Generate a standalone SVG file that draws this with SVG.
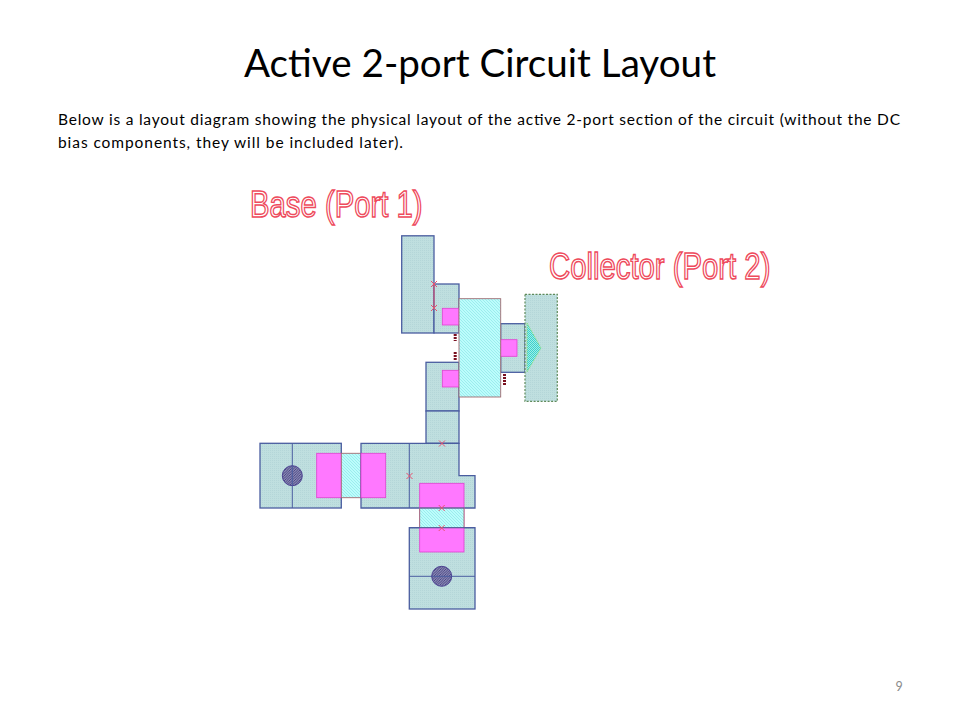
<svg xmlns="http://www.w3.org/2000/svg" width="960" height="720" viewBox="0 0 960 720">
<style>
.t{font-family:Lato,"Open Sans","Liberation Sans",sans-serif}
.m{fill:url(#dots);stroke:#4a5da0;stroke-width:1.3}
.d{fill:none;stroke:#4a5da0;stroke-width:1}
.p{fill:#ff78ff;stroke:#e040d0;stroke-width:.8}
.c{fill:url(#hatch);stroke:#a06a70;stroke-width:.9}
.o{fill:url(#via);stroke:#4a3f90;stroke-width:1}
.x{fill:none;stroke:#e8506e;stroke-width:1}
.l{font-family:"Liberation Sans",Arial,sans-serif;font-size:29.3px;fill:#fff;stroke:#ee4a5c;stroke-width:1.2}
.k{fill:none;stroke:#7a1020;stroke-width:3;stroke-dasharray:2 1}
</style>
<defs>
<pattern id="dots" width="2" height="2" patternUnits="userSpaceOnUse"><rect width="2" height="2" fill="#bfdfdf"/><rect width="1" height="1" fill="#b4d6d8"/></pattern>
<pattern id="hatch" width="3" height="3" patternUnits="userSpaceOnUse"><rect width="3" height="3" fill="#bcfcfc"/><path d="M0 0L3 3" stroke="#84e2e2" stroke-width=".6"/></pattern>
<pattern id="via" width="2.5" height="2.5" patternUnits="userSpaceOnUse"><rect width="2.5" height="2.5" fill="#8a8ab4"/><path d="M0 2.5L2.5 0" stroke="#3c3478" stroke-width=".8"/></pattern>
<pattern id="tri" width="2" height="2" patternUnits="userSpaceOnUse"><rect width="2" height="2" fill="#9eeee6"/><path d="M0 0L2 2" stroke="#25c8c8" stroke-width=".8"/></pattern>
</defs>
<rect width="960" height="720" fill="#fff"/>
<text class="t" x="244" y="77" font-size="38" fill="#000" textLength="472" lengthAdjust="spacingAndGlyphs">Active 2-port Circuit Layout</text>
<text class="t" x="58" y="125" font-size="15.5" fill="#000" textLength="842" lengthAdjust="spacing">Below is a layout diagram showing the physical layout of the active 2-port section of the circuit (without the DC</text>
<text class="t" x="58" y="148" font-size="15.5" fill="#000" textLength="345" lengthAdjust="spacing">bias components, they will be included later).</text>
<text class="l" transform="translate(250 217) scale(1 1.24)">Base (Port 1)</text>
<text class="l" transform="translate(549 279) scale(1 1.24)">Collector (Port 2)</text>

<g id="top-metal">
<rect class="m" x="401.7" y="235.8" width="32.3" height="97.2"/>
<rect class="m" x="434" y="284" width="25" height="49"/>
<rect class="p" x="442.3" y="308.3" width="16.7" height="16.7"/>
<path class="x" d="M434 284V308M431 281l6 6m0-6l-6 6M431 305l6 6m0-6l-6 6"/>
</g>
<g id="lower-metal">
<rect class="m" x="426" y="362.3" width="33" height="48.7"/>
<rect class="m" x="426" y="411" width="33" height="32.3"/>
<rect class="p" x="442.3" y="370.3" width="16.7" height="16.7"/>
</g>
<g id="collector-stub">
<rect class="m" x="500.7" y="323.7" width="24.3" height="48.6"/>
<rect class="p" x="500.7" y="339.7" width="16.3" height="16.6"/>
</g>
<g id="transistor">
<rect class="c" x="459" y="298.7" width="41.7" height="98.3"/>
</g>
<g id="collector-port">
<rect x="525" y="294.3" width="32.3" height="107" fill="url(#dots)" stroke="#5f8a5a" stroke-width="1.2" stroke-dasharray="2 1.5"/>
<path d="M527 323L541 348L527 372Z" fill="url(#tri)" stroke="#8ee070" stroke-width=".8" stroke-dasharray="1.5 1"/>
</g>
<g id="marks">
<path class="k" d="M455.2 334V341M455.2 352V360M504.5 374V385"/>
</g>
<g id="left-stub">
<rect class="m" x="260" y="443.3" width="81.3" height="64.7"/>
<path class="d" d="M292.3 443.3V508"/>
<rect class="p" x="316.7" y="453.3" width="24.6" height="44.4"/>
<rect class="c" x="341.3" y="453.3" width="19.7" height="44.4"/>
<circle class="o" cx="292.3" cy="475.7" r="10"/>
<path class="d" d="M292.3 465.7V485.7"/>
</g>
<g id="junction">
<path class="m" d="M361 443.3H459V475.7H475V508H361Z"/>
<path class="d" d="M409.3 443.3V508"/>
<rect class="p" x="361" y="453.3" width="24.7" height="44.4"/>
<path class="x" d="M439 440.5l6 6m0-6l-6 6M406.5 473l6 6m0-6l-6 6"/>
</g>
<g id="bottom-stub">
<rect class="m" x="409.3" y="527.7" width="65.7" height="81.3"/>
<path class="d" d="M409.3 576.3H475"/>
<rect class="p" x="419.7" y="483.3" width="44.3" height="68.7"/>
<rect class="c" x="419.7" y="508" width="44.3" height="19.7"/>
<path class="d" d="M409.3 527.7H475M419.7 508H464"/>
<circle class="o" cx="441.7" cy="576.3" r="10"/>
<path class="d" d="M431.7 576.3H451.7"/>
<path class="x" d="M438.7 505l6 6m0-6l-6 6M438.7 525l6 6m0-6l-6 6"/>
</g>
<text class="t" x="899" y="691" text-anchor="middle" font-size="12.5" fill="#8b8b8b">9</text>
</svg>
